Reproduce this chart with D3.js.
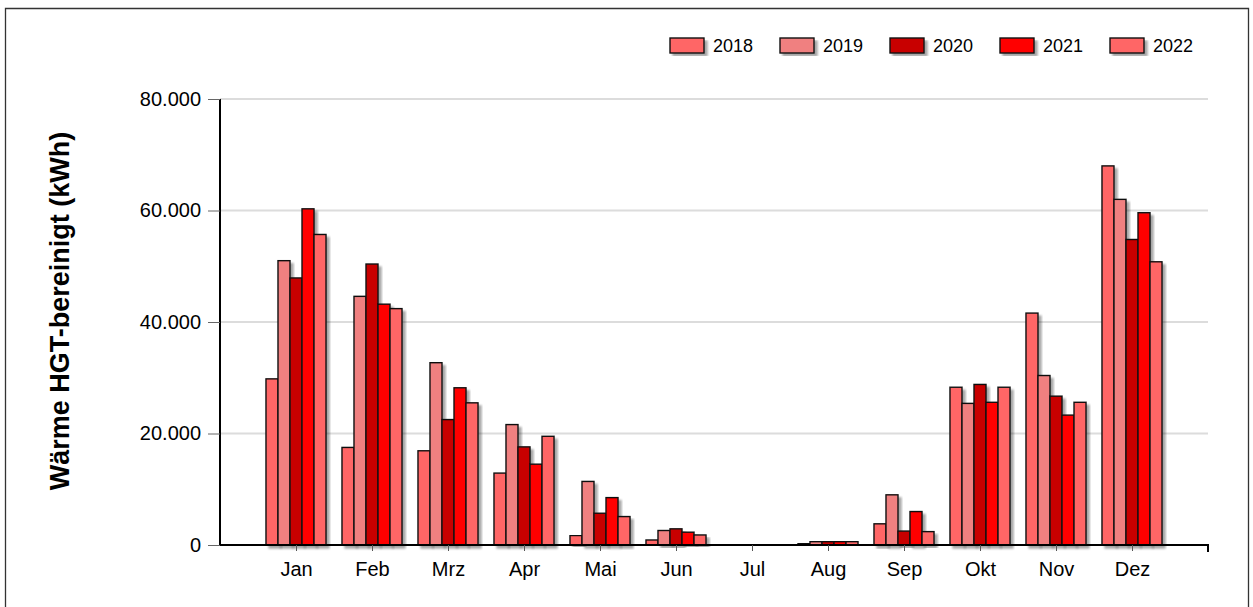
<!DOCTYPE html>
<html>
<head>
<meta charset="utf-8">
<script src="https://cdn.jsdelivr.net/npm/d3@7/dist/d3.min.js"></script>
<style>
  html, body { margin: 0; padding: 0; background: #fff; }
  svg { display: block; font-family: "Liberation Sans", Arial, sans-serif; }
</style>
</head>
<body>
<svg id="chart" width="1253" height="607"></svg>
<script>
// Monthly heat consumption, weather-adjusted (kWh)
const months = ["Jan", "Feb", "Mrz", "Apr", "Mai", "Jun", "Jul", "Aug", "Sep", "Okt", "Nov", "Dez"];
const years = ["2018", "2019", "2020", "2021", "2022"];
const yearColors = ["#ff6666", "#f08080", "#c80000", "#ff0000", "#ff6666"];
const yTicks = [0, 20000, 40000, 60000, 80000];

const v2018 = [29800, 17500, 16900, 12900, 1700, 900, 0, 300, 3800, 28300, 41600, 68000];
const v2019 = [51000, 44600, 32700, 21600, 11400, 2600, 0, 600, 9000, 25400, 30400, 62000];
const v2020 = [47900, 50400, 22500, 17600, 5700, 2900, 0, 600, 2500, 28800, 26700, 54800];
const v2021 = [60300, 43200, 28200, 14500, 8500, 2300, 0, 600, 6000, 25600, 23300, 59600];
const v2022 = [55700, 42400, 25500, 19500, 5100, 1800, 0, 600, 2400, 28300, 25600, 50800];
const series = [v2018, v2019, v2020, v2021, v2022];

const svg = d3.select("#chart");
const FONT = "'Liberation Sans', Arial, sans-serif";

// outer frame
svg.append("path")
  .attr("d", "M5.5,607 V8.5 H1248.5 V607")
  .attr("fill", "none").attr("stroke", "#333").attr("stroke-width", 1.3);

const plotL = 220, plotR = 1208, plotT = 99, plotB = 545;

// month slots 1..12 on a 0..13 axis
const x = d3.scaleLinear().domain([0, months.length + 1]).range([plotL, plotR]);
const y = d3.scaleLinear().domain([0, 80000]).range([plotB, plotT]);

const slot = x(1) - x(0);
const groupW = slot * 0.79;
const inner = d3.scaleBand().domain(years).range([-groupW / 2, groupW / 2]).padding(0);

// drop shadow for bars and legend swatches
const defs = svg.append("defs");
const f = defs.append("filter").attr("id", "shadow")
  .attr("x", "-20%").attr("y", "-5%").attr("width", "160%").attr("height", "120%");
f.append("feGaussianBlur").attr("in", "SourceAlpha").attr("stdDeviation", 1.2).attr("result", "b");
f.append("feOffset").attr("in", "b").attr("dx", 3).attr("dy", 3).attr("result", "o");
f.append("feComponentTransfer").attr("in", "o").attr("result", "s")
  .append("feFuncA").attr("type", "linear").attr("slope", 0.35);
const m = f.append("feMerge");
m.append("feMergeNode").attr("in", "s");
m.append("feMergeNode").attr("in", "SourceGraphic");

// grid lines
svg.append("g").selectAll("line").data(yTicks.filter(d => d > 0)).join("line")
  .attr("x1", plotL).attr("x2", plotR)
  .attr("y1", d => y(d)).attr("y2", d => y(d))
  .attr("stroke", "#dcdcdc").attr("stroke-width", 2);

// bars
const bars = svg.append("g");
series.forEach((vals, si) => {
  bars.append("g").selectAll("rect").data(vals).join("rect")
    .attr("x", (d, i) => x(i + 1) + inner(years[si]))
    .attr("y", d => y(d))
    .attr("width", inner.bandwidth())
    .attr("height", d => plotB - y(d))
    .attr("fill", yearColors[si])
    .attr("stroke", "#111").attr("stroke-width", 1.4)
    .attr("filter", "url(#shadow)");
});

// y axis
const yAxis = svg.append("g").attr("transform", `translate(${plotL},0)`)
  .call(d3.axisLeft(y).tickValues(yTicks).tickSize(12).tickPadding(7)
    .tickFormat(d => d === 0 ? "0" : d3.format(",")(d).replace(/,/g, ".")));
yAxis.select(".domain").attr("stroke", "#000").attr("stroke-width", 2).attr("d", `M0,${plotT}V${plotB}`);
yAxis.selectAll(".tick line").attr("stroke", "#666").attr("stroke-width", 1).attr("x2", -12);
yAxis.selectAll(".tick text").attr("font-size", 20).attr("fill", "#000").attr("font-family", FONT);

// x axis
const xAxis = svg.append("g").attr("transform", `translate(0,${plotB})`)
  .call(d3.axisBottom(x).tickValues(d3.range(1, months.length + 1)).tickSize(6).tickPadding(11)
    .tickFormat(d => months[d - 1]));
xAxis.select(".domain").attr("stroke", "#000").attr("stroke-width", 2)
  .attr("d", `M${plotL},0H${plotR}V7`);
xAxis.selectAll(".tick line").attr("stroke", "#555");
xAxis.selectAll(".tick text").attr("font-size", 20).attr("fill", "#000").attr("font-family", FONT);

// y axis title
svg.append("text")
  .attr("transform", "translate(69,311) rotate(-90)")
  .attr("text-anchor", "middle")
  .attr("font-size", 27).attr("font-weight", "bold").attr("font-family", FONT)
  .text("Wärme HGT-bereinigt (kWh)");

// legend
const legend = svg.append("g").attr("transform", "translate(670,38)");
const item = legend.selectAll("g").data(years).join("g")
  .attr("transform", (d, i) => `translate(${i * 110},0)`);
item.append("rect").attr("width", 34).attr("height", 15)
  .attr("fill", (d, i) => yearColors[i])
  .attr("stroke", "#111").attr("stroke-width", 1.4)
  .attr("filter", "url(#shadow)");
item.append("text").attr("x", 43).attr("y", 14)
  .attr("font-size", 18).attr("font-family", FONT).text(d => d);
</script>
</body>
</html>
